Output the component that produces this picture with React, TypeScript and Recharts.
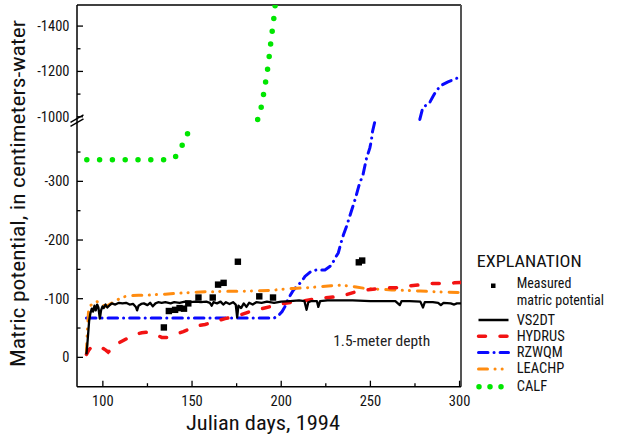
import React from 'react';
import { ComposedChart, Line, Scatter, XAxis, YAxis, ReferenceLine, Legend } from 'recharts';

const FONT = '"Liberation Sans Narrow","Arial Narrow","Roboto Condensed","DejaVu Sans Condensed",sans-serif';

// ---------------- data (day, matric potential in cm-water) ----------------
const measured: [number, number][] = [
  [134.2, -51], [137, -79], [140.5, -81], [143, -84], [145.5, -83], [147.9, -92],
  [153.6, -102], [161.6, -102], [164.6, -124], [167.7, -127], [175.7, -163],
  [187.7, -104], [195.4, -102], [243.5, -162], [245.4, -165],
];

const vs2dt: [number, number][] = [
  [90.8, -5], [91.5, -30], [92.3, -62], [93, -75], [93.8, -83], [94.5, -78], [95.3, -88], [96, -80],
  [96.8, -90], [97.5, -85], [98.3, -66], [99, -80], [99.8, -87], [100.5, -84], [101.5, -90], [102.5, -85],
  [103.5, -88], [105, -92], [107, -90], [109, -93], [111, -92], [113, -93], [115, -90], [117, -91],
  [118.5, -86], [119.2, -80], [120, -88], [121.5, -91], [123, -92], [125, -89], [126.5, -93], [128, -87],
  [129.5, -92], [131, -94], [133, -93], [135, -94], [138, -92], [140, -94], [143, -93], [146, -95],
  [149, -94], [152, -95], [155, -94], [158, -95], [160, -93], [161, -88], [162, -94], [164, -92],
  [166, -95], [167.5, -90], [169, -94], [171, -91], [173, -94], [174.5, -90], [175.3, -68], [176, -88],
  [177.5, -84], [179, -92], [180.5, -86], [182, -93], [184, -90], [186, -94], [189, -93], [192, -95],
  [196, -93], [200, -95], [205, -96], [210, -97], [213, -96], [214.2, -81], [215.2, -94], [217, -96],
  [220, -96], [220.8, -86], [221.8, -96], [226, -97], [232, -97], [240, -97], [250, -96], [258, -96],
  [264, -96], [266.5, -89], [267.5, -96], [272, -96], [278, -95], [279.5, -85], [280.5, -94], [285, -94],
  [288, -93], [289.5, -89], [291, -93], [295, -92], [297, -90], [298.5, -92], [300.8, -92],
];

const hydrus: [number, number][] = [
  [90.8, -5], [92, -12], [93.6, -18], [96.5, -19], [98.5, -16], [100.2, -15], [101.8, -12], [103, -9],
  [104.8, -14], [106.7, -21], [110.4, -27], [113.5, -32], [117, -38], [121.8, -42], [125, -43],
  [128.3, -41], [131, -37], [133, -34], [136, -34], [139.5, -38], [145.1, -44], [150, -50], [152.6, -54],
  [157.3, -56], [162.9, -61], [168.5, -66], [173.1, -69], [177.8, -73], [182.5, -78], [188, -82],
  [194.6, -87], [199.3, -91], [205.8, -94], [210.5, -95], [218, -99], [222.6, -101], [230, -103],
  [235.7, -106], [242, -112], [247.8, -115], [255, -117.5], [260, -118.5], [266.5, -119], [272, -122],
  [279.5, -124], [284.2, -126], [292.6, -126], [297, -127], [300.8, -127.5],
];

const rzwqmLow: [number, number][] = [
  [90.8, -67], [196, -67], [198.4, -71], [200.5, -78], [202, -86], [204, -100], [206.7, -114],
  [209, -122], [211.4, -129], [213.3, -138], [216.5, -146], [219.8, -149], [224.5, -149], [228.2, -157],
  [230, -168], [232, -178], [233.5, -195], [235, -210], [236.6, -223], [239.4, -250], [241.5, -270],
  [243.7, -294], [245.9, -312], [247.8, -339], [249.7, -357], [250.5, -369], [251.2, -385], [252.5, -402],
];
const rzwqmHigh: [number, number][] = [
  [277.7, -988], [279.4, -1041], [281.5, -1052], [283.2, -1062], [285, -1088], [287, -1115],
  [289.6, -1138], [293.5, -1154], [297, -1165], [300.8, -1178],
];

const leachp: [number, number][] = [
  [90.8, -8], [91.3, -45], [92, -80], [93, -88], [94.5, -92], [97, -95], [98.5, -90], [100, -89],
  [102, -87], [104.8, -92], [108, -98], [111.4, -103], [115, -105], [120, -106], [125, -106],
  [130, -107], [135, -107.5], [140.5, -109], [146, -110], [152, -111], [158, -112], [164, -112],
  [170, -112.5], [176, -112.5], [182, -113], [188, -113.5], [194, -114], [200, -116], [207, -117.5],
  [214, -118.6], [222, -120.5], [228, -122], [234, -123], [238, -121.5], [242, -120], [247, -117.5],
  [255, -116], [262, -115], [270, -114], [278, -113], [285, -112], [292, -111], [300.8, -110.5],
];

const calfLow: [number, number][] = [
  [91, -337], [134.2, -337], [140.5, -341], [144.6, -362], [147.9, -384],
];
const calfHigh: [number, number][] = [
  [186.8, -988], [188.8, -1043], [190.1, -1099], [191.3, -1156], [192.4, -1212], [193.3, -1268],
  [194.1, -1324], [195, -1381], [195.9, -1437], [196.6, -1493],
];

const xMajorTicks = [100, 150, 200, 250, 300];
const xMinorTicks = [125, 175, 225, 275];
const yMajorTicks = [0, -100, -200, -300, -1000, -1200, -1400];
const yMinorTicks = [-50, -150, -250, -350, -1100, -1300];
const xDomainDays: [number, number] = [85.5, 300.8];
const yBottomValue = 50;
const yTopValue = -1493;

const seriesNames = ['VS2DT', 'HYDRUS', 'RZWQM', 'LEACHP', 'CALF'];
const measuredName = ['Measured', 'matric potential'];

// ---------------- broken y-axis transform ----------------
const UPPER_BASE = 410.1;   // plot units where -1000 sits
const UPPER_SCALE = 0.3864; // upper section compression
const BREAK_T = 403;        // position of the axis break mark
function toPlot(v: number): number {
  const m = -v;
  return m < 700 ? m : UPPER_BASE + (m - 1000) * UPPER_SCALE;
}
const toRows = (pairs: [number, number][]) => pairs.map(([d, v]) => ({ day: d, v: toPlot(v) }));

const COLORS = { vs2dt: '#000000', hydrus: '#f21313', rzwqm: '#0a0aff', leachp: '#ff8c10', calf: '#00e600' };
const DASH = {
  hydrus: '7 14.5',
  rzwqm: '9.5 6 0.1 6',
  leachp: '9 7.5 0.1 7 0.1 8',
  calf: '0 12.8',
};

const X_TICK_MARGIN = 4;
const Y_TICK_MARGIN = 8;

const XTick = (props: any) => {
  const { x, y, payload } = props;
  const v = payload.value;
  const major = xMajorTicks.some((t) => Math.abs(t - v) < 0.01);
  const ay = y - X_TICK_MARGIN;
  return (
    <g>
      <line x1={x} x2={x} y1={ay} y2={ay - (major ? 6 : 3.5)} stroke="#000" strokeWidth={1.3} />
      {major && (
        <text x={x} y={ay + 19.5} textAnchor="middle" fontSize={14.5} fontFamily={FONT} fill="#111">
          {v}
        </text>
      )}
    </g>
  );
};

const YTick = (props: any) => {
  const { x, y, payload } = props;
  const t = payload.value;
  const ax = x + Y_TICK_MARGIN;
  if (Math.abs(t - BREAK_T) < 0.01) {
    return (
      <g stroke="#000" strokeWidth={1.4}>
        <line x1={ax - 6.5} y1={y + 1.5} x2={ax + 6.5} y2={y - 6} />
        <line x1={ax - 6.5} y1={y + 5.5} x2={ax + 6.5} y2={y - 2} />
      </g>
    );
  }
  const major = yMajorTicks.find((v) => Math.abs(toPlot(v) - t) < 0.01);
  return (
    <g>
      <line x1={ax} x2={ax + (major !== undefined ? 6 : 3.5)} y1={y} y2={y} stroke="#000" strokeWidth={1.3} />
      {major !== undefined && (
        <text x={x + 0.5} y={y + 5} textAnchor="end" fontSize={14.5} fontFamily={FONT} fill="#111">
          {major}
        </text>
      )}
    </g>
  );
};

const YTitle = () => (
  <text
    x={25}
    y={193.5}
    transform="rotate(-90, 25, 193.5)"
    textAnchor="middle"
    fontSize={20.5}
    fontFamily={FONT}
    fill="#111"
    textLength={347}
    lengthAdjust="spacingAndGlyphs"
  >
    Matric potential, in centimeters-water
  </text>
);

const XTitle = () => (
  <g>
    <text x={263} y={430} textAnchor="middle" fontSize={21} fontFamily={FONT} fill="#111"
      textLength={154} lengthAdjust="spacingAndGlyphs">
      Julian days, 1994
    </text>
    <text x={381.7} y={346} textAnchor="middle" fontSize={15} fontFamily={FONT} fill="#222"
      textLength={97} lengthAdjust="spacingAndGlyphs">
      1.5-meter depth
    </text>
  </g>
);

const LegendBox = () => {
  const lx1 = 11.5, lx2 = 41.5, tx = 49.7;
  const rows = [
    { name: seriesNames[0], color: COLORS.vs2dt, dash: undefined, w: 2.5 },
    { name: seriesNames[1], color: COLORS.hydrus, dash: DASH.hydrus, w: 3.5 },
    { name: seriesNames[2], color: COLORS.rzwqm, dash: DASH.rzwqm, w: 3 },
    { name: seriesNames[3], color: COLORS.leachp, dash: DASH.leachp, w: 3 },
  ];
  return (
    <svg width={150} height={160} style={{ overflow: 'visible' }}>
      <text x={9.7} y={22.3} fontSize={17} fontFamily={FONT} fill="#111" textLength={105} lengthAdjust="spacingAndGlyphs">
        EXPLANATION
      </text>
      <rect x={24} y={38.5} width={4.5} height={4.5} fill="#000" />
      <text x={tx} y={43} fontSize={14} fontFamily={FONT} fill="#111">{measuredName[0]}</text>
      <text x={tx} y={59.5} fontSize={14} fontFamily={FONT} fill="#111">{measuredName[1]}</text>
      {rows.map((r, i) => (
        <g key={r.name}>
          <line x1={lx1} x2={lx2} y1={75 + i * 16.3} y2={75 + i * 16.3} stroke={r.color} strokeWidth={r.w}
            strokeDasharray={r.dash} strokeLinecap={r.dash ? 'round' : 'butt'} />
          <text x={tx} y={79.5 + i * 16.3} fontSize={14.5} fontFamily={FONT} fill="#111">{r.name}</text>
        </g>
      ))}
      <line x1={12} x2={36} y1={141.7} y2={141.7} stroke={COLORS.calf} strokeWidth={5.5}
        strokeDasharray="0 11" strokeLinecap="round" />
      <text x={tx} y={145.8} fontSize={14.5} fontFamily={FONT} fill="#111">{seriesNames[4]}</text>
    </svg>
  );
};

export default function App() {
  const yTicks = [...yMajorTicks, ...yMinorTicks].map(toPlot).concat([BREAK_T]).sort((a, b) => a - b);
  const yDomain: [number, number] = [toPlot(yBottomValue), toPlot(yTopValue)];
  return (
    <div style={{ position: 'absolute', left: 0, top: 0, width: 617, height: 440, background: '#fff' }}>
      <ComposedChart width={617} height={440} margin={{ top: 5, right: 156, bottom: 23.3, left: 0 }}>
        <XAxis
          type="number"
          dataKey="day"
          domain={xDomainDays}
          allowDataOverflow
          ticks={[...xMajorTicks, ...xMinorTicks]}
          interval={0}
          tickSize={0}
          tickMargin={X_TICK_MARGIN}
          tickLine={false}
          tick={<XTick />}
          axisLine={{ stroke: '#000', strokeWidth: 1.5 }}
          height={30}
          label={<XTitle />}
        />
        <YAxis
          type="number"
          dataKey="v"
          domain={yDomain}
          allowDataOverflow
          ticks={yTicks}
          interval={0}
          tickSize={0}
          tickMargin={Y_TICK_MARGIN}
          tickLine={false}
          tick={<YTick />}
          axisLine={{ stroke: '#000', strokeWidth: 1.5 }}
          width={77}
          label={<YTitle />}
        />
        <ReferenceLine y={yDomain[1]} stroke="#000" strokeWidth={1.5} />
        <ReferenceLine x={xDomainDays[1]} stroke="#555" strokeWidth={2} />
        <Line data={toRows(calfLow)} dataKey="v" name="CALF" stroke={COLORS.calf} strokeWidth={5.5}
          strokeDasharray={DASH.calf} strokeLinecap="round" dot={false} isAnimationActive={false} type="linear" />
        <Line data={toRows(calfHigh)} dataKey="v" name="CALF2" stroke={COLORS.calf} strokeWidth={5.5}
          strokeDasharray={DASH.calf} strokeLinecap="round" dot={false} isAnimationActive={false} type="linear" />
        <Line data={toRows(rzwqmLow)} dataKey="v" name="RZWQM" stroke={COLORS.rzwqm} strokeWidth={3}
          strokeDasharray={DASH.rzwqm} strokeLinecap="round" dot={false} isAnimationActive={false} type="linear" />
        <Line data={toRows(rzwqmHigh)} dataKey="v" name="RZWQM2" stroke={COLORS.rzwqm} strokeWidth={3}
          strokeDasharray={DASH.rzwqm} strokeLinecap="round" dot={false} isAnimationActive={false} type="linear" />
        <Line data={toRows(leachp)} dataKey="v" name="LEACHP" stroke={COLORS.leachp} strokeWidth={3}
          strokeDasharray={DASH.leachp} strokeLinecap="round" dot={false} isAnimationActive={false} type="linear" />
        <Line data={toRows(hydrus)} dataKey="v" name="HYDRUS" stroke={COLORS.hydrus} strokeWidth={3.5}
          strokeDasharray={DASH.hydrus} strokeLinecap="round" dot={false} isAnimationActive={false} type="linear" />
        <Line data={toRows(vs2dt)} dataKey="v" name="VS2DT" stroke={COLORS.vs2dt} strokeWidth={2.3}
          dot={false} isAnimationActive={false} type="linear" strokeLinejoin="round" />
        <Scatter data={toRows(measured)} dataKey="v" name="Measured" isAnimationActive={false}
          shape={(p: any) => <rect x={p.cx - 3.2} y={p.cy - 3.2} width={6.4} height={6.4} fill="#000" />} />
        <Legend
          layout="horizontal"
          align="center"
          verticalAlign="middle"
          content={() => <LegendBox />}
          wrapperStyle={{ position: 'absolute', left: 467, top: 245, width: 150, height: 160 }}
        />
      </ComposedChart>
    </div>
  );
}
